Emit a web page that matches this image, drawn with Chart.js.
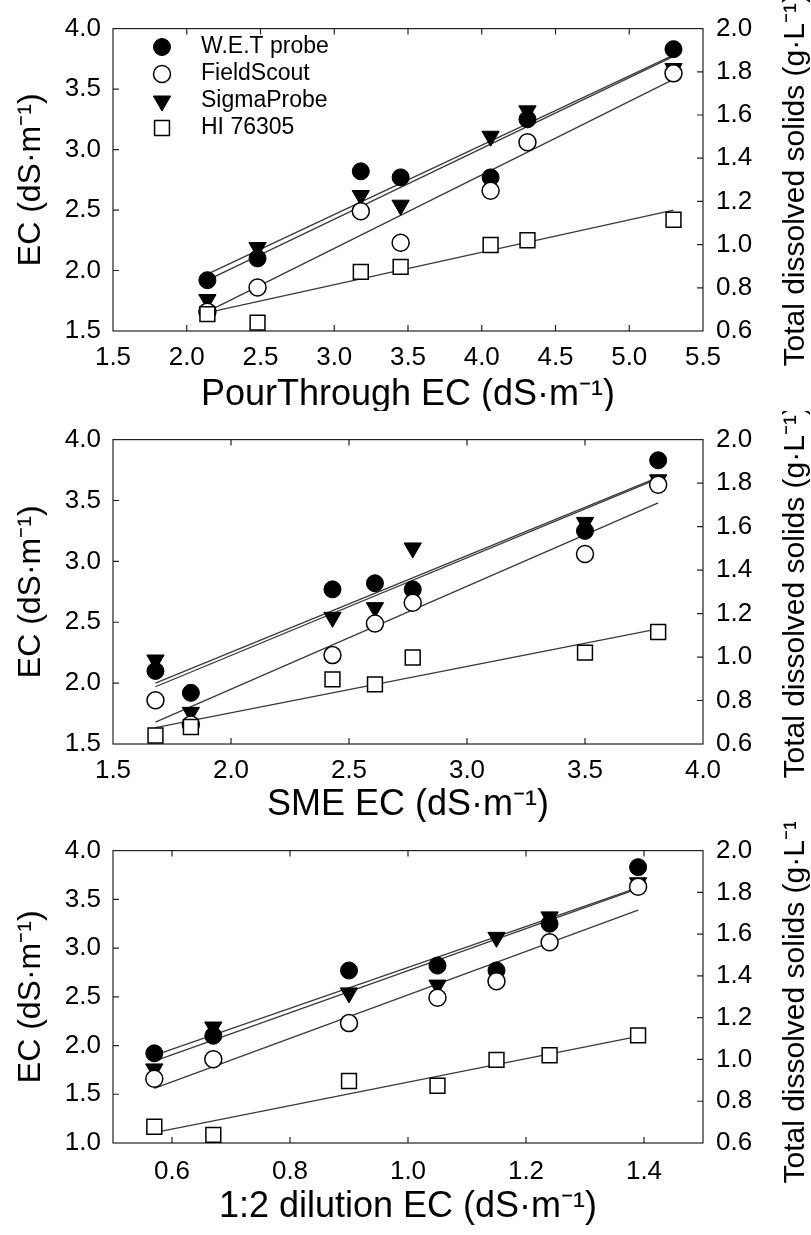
<!DOCTYPE html>
<html lang="en">
<head>
<meta charset="UTF-8">
<title>EC vs substrate extraction methods</title>
<script src="https://cdn.jsdelivr.net/npm/chart.js@4.4.0/dist/chart.umd.min.js"></script>
<style>
  body { margin: 0; background: #fff; }
  #wrap { position: relative; width: 811px; height: 1235px; }
  canvas { position: absolute; left: 0; }
</style>
</head>
<body>
<div id="wrap">
  <canvas id="c1" width="811" height="411" style="top:0"></canvas>
  <canvas id="c2" width="811" height="411" style="top:411px"></canvas>
  <canvas id="c3" width="811" height="413" style="top:822px"></canvas>
</div>
<script>
// sensor readings (same 7 samples in every panel)
const seriesNames = ['W.E.T probe', 'FieldScout', 'SigmaProbe', 'HI 76305'];
const wetEC = [1.92, 2.10, 2.82, 2.77, 2.77, 3.25, 3.83];
const fieldScoutEC = [1.66, 1.86, 2.49, 2.23, 2.66, 3.06, 3.63];
const sigmaEC = [1.76, 2.19, 2.62, 2.54, 3.11, 3.32, 3.67];
const hiTDS = [0.678, 0.639, 0.874, 0.897, 0.998, 1.02, 1.115]; // g/L, right axis

// x values of the same samples for each extraction method
const xPourThrough = [2.14, 2.48, 3.18, 3.45, 4.06, 4.31, 5.30];
const xSME = [1.83, 1.68, 2.61, 2.43, 2.77, 3.50, 3.81];
const xDilution = [0.57, 0.67, 1.05, 0.90, 1.15, 1.24, 1.39];

// regression lines: [W.E.T, FieldScout, SigmaProbe, HI]
const fitStartPT = [1.97, 1.66, 1.92, 0.685];
const fitEndPT = [3.78, 3.58, 3.77, 1.16];
const fitStartSME = [2.00, 1.68, 1.97, 0.675];
const fitEndSME = [3.69, 3.48, 3.68, 1.13];
const fitStartDil = [1.90, 1.56, 1.84, 0.65];
const fitEndDil = [3.62, 3.39, 3.61, 1.11];

// tick labels
const xTicksPT = [1.5, 2.0, 2.5, 3.0, 3.5, 4.0, 4.5, 5.0, 5.5];
const xTicksSME = [1.5, 2.0, 2.5, 3.0, 3.5, 4.0];
const xTicksDil = [0.6, 0.8, 1.0, 1.2, 1.4];
const yTicksTop = [1.5, 2.0, 2.5, 3.0, 3.5, 4.0];
const yTicksDil = [1.0, 1.5, 2.0, 2.5, 3.0, 3.5, 4.0];
const tdsTicks = [0.6, 0.8, 1.0, 1.2, 1.4, 1.6, 1.8, 2.0];

Chart.defaults.font.family = '"Liberation Sans", Arial, sans-serif';
Chart.defaults.color = '#000';
Chart.defaults.animation = false;

const FONT = '"Liberation Sans", Arial, sans-serif';

let pts = (xs, ys) => xs.map((x, i) => ({ x: x, y: ys[i] }));
let fit = (xs, y0, y1) => [{ x: Math.min(...xs), y: y0 }, { x: Math.max(...xs), y: y1 }];

// marker styles, also used for the legend
const markers = [
  { pointStyle: 'circle', radius: 8.5, rotation: 0, fill: '#000', borderWidth: 1 },
  { pointStyle: 'circle', radius: 8.5, rotation: 0, fill: '#fff', borderWidth: 1.5 },
  { pointStyle: 'triangle', radius: 10, rotation: 180, fill: '#000', borderWidth: 1 },
  { pointStyle: 'rect', radius: 10.5, rotation: 0, fill: '#fff', borderWidth: 1.5 }
];
const drawOrder = [2, 1, 3, 0];

// frame, inward ticks, right title and legend
const framePlugin = {
  id: 'frame',
  beforeDatasetsDraw(chart) {
    const { ctx, chartArea: a, scales } = chart;
    const len = 6;
    ctx.save();
    ctx.strokeStyle = '#222';
    ctx.lineWidth = 1.2;
    ctx.strokeRect(a.left, a.top, a.right - a.left, a.bottom - a.top);
    ctx.beginPath();
    scales.x.ticks.forEach(t => {
      const px = scales.x.getPixelForValue(t.value);
      if (px < a.left + 2 || px > a.right - 2) return;
      ctx.moveTo(px, a.bottom); ctx.lineTo(px, a.bottom - len);
      ctx.moveTo(px, a.top); ctx.lineTo(px, a.top + len);
    });
    scales.y.ticks.forEach(t => {
      const py = scales.y.getPixelForValue(t.value);
      if (py < a.top + 2 || py > a.bottom - 2) return;
      ctx.moveTo(a.left, py); ctx.lineTo(a.left + len, py);
    });
    scales.y1.ticks.forEach(t => {
      const py = scales.y1.getPixelForValue(t.value);
      if (py < a.top + 2 || py > a.bottom - 2) return;
      ctx.moveTo(a.right, py); ctx.lineTo(a.right - len, py);
    });
    ctx.stroke();
    ctx.restore();
  },
  afterDraw(chart, args, opts) {
    const { ctx, chartArea: a } = chart;
    ctx.save();
    ctx.fillStyle = '#000';
    ctx.font = '30px ' + FONT;
    ctx.textAlign = 'center';
    ctx.textBaseline = 'middle';
    ctx.translate(796, (a.top + a.bottom) / 2);
    ctx.rotate(-Math.PI / 2);
    ctx.fillText('Total dissolved solids (g·L⁻¹)', 0, 0);
    ctx.restore();

    if (!opts.legend) return;
    ctx.save();
    ctx.font = '23px ' + FONT;
    ctx.textAlign = 'left';
    ctx.textBaseline = 'middle';
    seriesNames.forEach((name, i) => {
      const m = markers[i];
      const y = 47 + 27 * i;
      ctx.fillStyle = m.fill;
      ctx.strokeStyle = '#000';
      ctx.lineWidth = m.borderWidth;
      Chart.helpers.drawPoint(ctx, { pointStyle: m.pointStyle, radius: m.radius, rotation: m.rotation, borderWidth: m.borderWidth }, 162, y);
      ctx.fillStyle = '#000';
      ctx.fillText(name, 201, y);
    });
    ctx.restore();
  }
};

function makePanel(id, p) {
  const ys = [wetEC, fieldScoutEC, sigmaEC, hiTDS];
  const datasets = [];
  ys.forEach((vals, i) => {
    const m = markers[i];
    datasets.push({
      label: seriesNames[i],
      data: pts(p.xs, vals),
      yAxisID: i === 3 ? 'y1' : 'y',
      showLine: false,
      pointStyle: m.pointStyle,
      pointRadius: m.radius,
      pointRotation: m.rotation,
      pointBackgroundColor: m.fill,
      pointBorderColor: '#000',
      pointBorderWidth: m.borderWidth,
      pointHoverRadius: m.radius,
      order: drawOrder[i]
    });
  });
  ys.forEach((vals, i) => {
    datasets.push({
      label: seriesNames[i] + ' fit',
      data: fit(p.xs, p.fitStart[i], p.fitEnd[i]),
      yAxisID: i === 3 ? 'y1' : 'y',
      showLine: true,
      borderColor: '#3a3a3a',
      borderWidth: 1.3,
      pointRadius: 0,
      order: 10
    });
  });

  const H = p.height;
  new Chart(document.getElementById(id), {
    type: 'scatter',
    data: { datasets: datasets },
    options: {
      responsive: false,
      layout: { padding: { top: p.top, left: 0, right: 0, bottom: 0 } },
      plugins: {
        legend: { display: false },
        tooltip: { enabled: false },
        frame: { legend: p.legend }
      },
      scales: {
        x: {
          type: 'linear',
          min: p.xMin, max: p.xMax,
          afterBuildTicks: s => { s.ticks = p.xTicks.map(v => ({ value: v })); },
          afterFit: s => { s.height = H - p.bottom; },
          grid: { display: false, drawTicks: false },
          border: { display: false },
          ticks: { autoSkip: false, maxRotation: 0, padding: p.xTickPad, font: { size: 26 }, callback: v => v.toFixed(1) },
          title: { display: true, text: p.xTitle, font: { size: 36, lineHeight: 1 }, padding: { top: 0, bottom: p.titlePad } }
        },
        y: {
          position: 'left',
          min: p.yMin, max: 4.0,
          afterBuildTicks: s => { s.ticks = p.yTicks.map(v => ({ value: v })); },
          afterFit: s => { s.width = 113; },
          grid: { display: false, drawTicks: false },
          border: { display: false },
          ticks: { padding: 12, font: { size: 26 }, callback: v => v.toFixed(1) },
          title: { display: true, text: 'EC (dS·m⁻¹)', font: { size: 32, lineHeight: 1 }, padding: { top: 15, bottom: 0 } }
        },
        y1: {
          position: 'right',
          min: 0.6, max: 2.0,
          afterBuildTicks: s => { s.ticks = tdsTicks.map(v => ({ value: v })); },
          afterFit: s => { s.width = 108; },
          grid: { display: false, drawTicks: false },
          border: { display: false },
          ticks: { padding: 13, font: { size: 26 }, callback: v => v.toFixed(1) }
        }
      }
    },
    plugins: [framePlugin]
  });
}

makePanel('c1', {
  xs: xPourThrough, fitStart: fitStartPT, fitEnd: fitEndPT,
  xMin: 1.5, xMax: 5.5, xTicks: xTicksPT, yMin: 1.5, yTicks: yTicksTop,
  height: 411, top: 19, bottom: 331, xTickPad: 11, titlePad: -2,
  xTitle: 'PourThrough EC (dS·m⁻¹)', legend: true
});
makePanel('c2', {
  xs: xSME, fitStart: fitStartSME, fitEnd: fitEndSME,
  xMin: 1.5, xMax: 4.0, xTicks: xTicksSME, yMin: 1.5, yTicks: yTicksTop,
  height: 411, top: 22, bottom: 333, xTickPad: 11, titlePad: -1,
  xTitle: 'SME EC (dS·m⁻¹)', legend: false
});
makePanel('c3', {
  xs: xDilution, fitStart: fitStartDil, fitEnd: fitEndDil,
  xMin: 0.5, xMax: 1.5, xTicks: xTicksDil, yMin: 1.0, yTicks: yTicksDil,
  height: 413, top: 11, bottom: 321, xTickPad: 13, titlePad: 10,
  xTitle: '1:2 dilution EC (dS·m⁻¹)', legend: false
});
</script>
</body>
</html>
